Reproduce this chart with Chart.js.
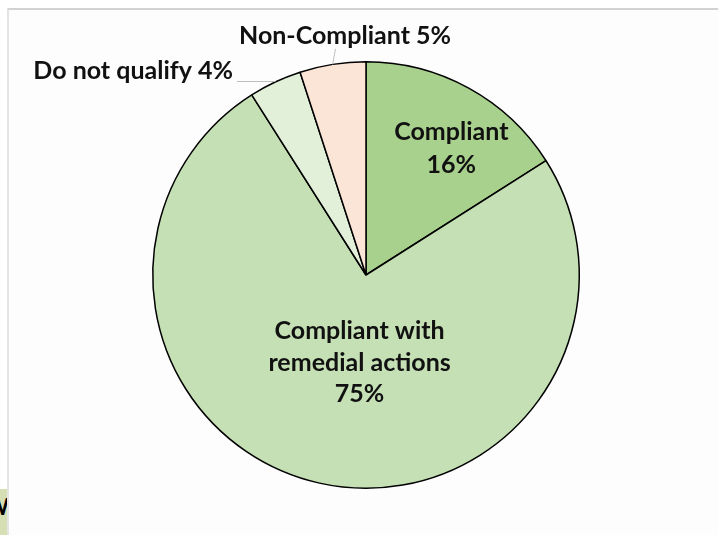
<!DOCTYPE html>
<html>
<head>
<meta charset="utf-8">
<script src="https://cdn.jsdelivr.net/npm/chart.js@4.4.1/dist/chart.umd.min.js"></script>
<style>
    html, body { margin: 0; padding: 0; background: #ffffff; }
    #wrap { position: relative; width: 718px; height: 535px; overflow: hidden; }
    #frame {
        position: absolute; left: 7px; top: 8px; right: 0; bottom: 0;
        border-top: 2px solid #d2d2d2; border-left: 2px solid #e4e4e4;
        background: #fdfdfd;
    }
    #tab {
        position: absolute; left: 0; top: 489px; width: 7px; height: 46px;
        background: #d6deb4; overflow: hidden;
        font: bold 22px "Lato", sans-serif; color: #000;
    }
    #tab span { position: absolute; left: -14px; top: 4px; }
    canvas { position: absolute; left: 0; top: 0; }
</style>
</head>
<body>
<div id="wrap">
    <div id="frame"></div>
    <div id="tab"><span>W</span></div>
    <canvas id="pieChart" width="718" height="535"></canvas>
</div>
<script>
// chart data
const categories = ['Compliant', 'Compliant with remedial actions', 'Do not qualify', 'Non-Compliant'];
const shares = [16, 75, 4, 5];
const sliceColors = ['#a9d18e', '#c5e0b4', '#e2f0d9', '#fbe5d6'];

const FONT = 'bold 25px "Lato", sans-serif';
const TEXT = '#111111';

// labels drawn on top of the slices, placed relative to the pie center/radius
const labelPlugin = {
    id: 'pieLabels',
    afterDatasetsDraw(chart) {
        const ctx = chart.ctx;
        const arcs = chart.getDatasetMeta(0).data;
        const cx = arcs[0].x, cy = arcs[0].y, r = arcs[0].outerRadius;

        ctx.save();
        ctx.font = FONT;
        ctx.fillStyle = TEXT;
        ctx.textAlign = 'center';
        ctx.textBaseline = 'alphabetic';

        // Compliant (inside)
        ctx.fillText(categories[0], cx + r * 0.40, cy - r * 0.634);
        ctx.fillText(shares[0] + '%', cx + r * 0.40, cy - r * 0.48);

        // Compliant with remedial actions (inside)
        ctx.fillText('Compliant with', cx - r * 0.03, cy + r * 0.30);
        ctx.fillText('remedial actions', cx - r * 0.03, cy + r * 0.45);
        ctx.fillText(shares[1] + '%', cx - r * 0.03, cy + r * 0.595);

        // outside labels with leader lines
        const midPoint = (arc) => {
            const a = (arc.startAngle + arc.endAngle) / 2;
            return { x: cx + Math.cos(a) * r, y: cy + Math.sin(a) * r };
        };

        ctx.strokeStyle = '#bfbfbf';
        ctx.lineWidth = 1;

        const dq = midPoint(arcs[2]);
        ctx.textAlign = 'right';
        ctx.fillText(categories[2] + ' ' + shares[2] + '%', 233, 79);
        ctx.beginPath();
        ctx.moveTo(237, 81.5);
        ctx.lineTo(dq.x, 81.5);
        ctx.lineTo(dq.x, dq.y);
        ctx.stroke();

        const nc = midPoint(arcs[3]);
        ctx.textAlign = 'center';
        ctx.fillText(categories[3] + ' ' + shares[3] + '%', 345, 44);
        ctx.beginPath();
        ctx.moveTo(335.5, 49);
        ctx.lineTo(nc.x, nc.y);
        ctx.stroke();

        ctx.restore();
    }
};

new Chart(document.getElementById('pieChart'), {
    type: 'pie',
    data: {
        labels: categories,
        datasets: [{
            data: shares,
            backgroundColor: sliceColors,
            borderColor: '#000000',
            borderWidth: 1.5,
            hoverOffset: 0,
            offset: 0
        }]
    },
    options: {
        responsive: false,
        animation: false,
        layout: { padding: { top: 61, bottom: 46, left: 152, right: 138 } },
        plugins: {
            legend: { display: false },
            tooltip: { enabled: false }
        }
    },
    plugins: [labelPlugin]
});
</script>
</body>
</html>
